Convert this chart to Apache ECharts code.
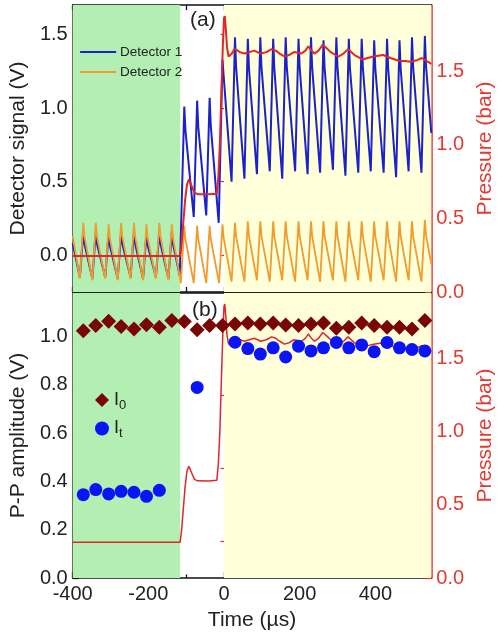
<!DOCTYPE html>
<html><head><meta charset="utf-8">
<script src="https://cdn.jsdelivr.net/npm/echarts@6/dist/echarts.min.js"></script>
<style>html,body{margin:0;padding:0;background:#fff}#c{width:504px;height:639px}</style>
</head><body><div id="c"></div>
<script>
// ---------- DATA ----------
// Top panel: detector waveforms [time (µs), signal (V)]
const detector1 = [
[-400,0.08],
[-381,-0.15],[-372,0.16],[-369,0.08],
[-348,-0.16],[-339,0.16],[-336,0.08],
[-314,-0.15],[-305,0.15],[-302,0.07],
[-281,-0.16],[-272,0.16],[-269,0.08],
[-247,-0.15],[-238,0.16],[-235,0.08],
[-214,-0.16],[-205,0.15],[-202,0.07],
[-180,-0.15],[-171,0.16],[-168,0.08],
[-147,-0.16],[-138,0.16],[-135,0.08],
[-117,-0.14],[-105,1.01],[-102,0.85],
[-80,0.26],[-71,1.05],[-68,0.87],
[-47,0.27],[-38,1.07],[-35,0.88],
[-14,0.22],[-4,1.33],[-1,1.22],
[20,0.50],[29,1.48],[32,1.28],
[54,0.52],[63,1.47],[66,1.27],
[87,0.55],[96,1.48],[99,1.28],
[121,0.57],[130,1.47],[133,1.27],
[154,0.52],[163,1.48],[166,1.28],
[188,0.57],[197,1.47],[200,1.28],
[221,0.55],[230,1.48],[233,1.28],
[254,0.56],[263,1.46],[266,1.27],
[288,0.58],[297,1.48],[300,1.28],
[321,0.54],[330,1.47],[333,1.27],
[355,0.56],[364,1.47],[367,1.28],
[388,0.57],[397,1.46],[400,1.27],
[422,0.56],[431,1.47],[434,1.27],
[455,0.53],[464,1.46],[467,1.27],
[488,0.57],[497,1.48],[500,1.28],
[522,0.56],[531,1.49],[534,1.29],
[548,0.83]
];
const detector2 = [
[-400,0.13],
[-381,-0.16],[-372,0.22],[-369,0.13],
[-348,-0.17],[-339,0.22],[-336,0.13],
[-314,-0.16],[-305,0.21],[-302,0.12],
[-281,-0.17],[-272,0.22],[-269,0.13],
[-247,-0.16],[-238,0.22],[-235,0.13],
[-214,-0.17],[-205,0.21],[-202,0.12],
[-180,-0.16],[-171,0.22],[-168,0.13],
[-147,-0.17],[-138,0.21],[-135,0.12],
[-114,-0.19],[-105,0.20],[-102,0.11],
[-80,-0.19],[-71,0.20],[-68,0.11],
[-47,-0.19],[-38,0.20],[-35,0.11],
[-13,-0.19],[-4,0.21],[-1,0.12],
[20,-0.18],[29,0.22],[32,0.13],
[54,-0.18],[63,0.23],[66,0.13],
[87,-0.17],[96,0.23],[99,0.13],
[121,-0.18],[130,0.23],[133,0.13],
[154,-0.17],[163,0.23],[166,0.13],
[188,-0.18],[197,0.23],[200,0.13],
[221,-0.17],[230,0.23],[233,0.13],
[254,-0.18],[263,0.23],[266,0.13],
[288,-0.17],[297,0.23],[300,0.13],
[321,-0.18],[330,0.23],[333,0.13],
[355,-0.17],[364,0.23],[367,0.13],
[388,-0.18],[397,0.23],[400,0.13],
[422,-0.17],[431,0.23],[434,0.13],
[455,-0.18],[464,0.23],[467,0.13],
[488,-0.17],[497,0.23],[500,0.13],
[522,-0.18],[531,0.24],[534,0.14],
[548,-0.06]
];
// Pressure trace [time (µs), pressure (bar)] (both panels)
const pressure = [
[-400,0.245],[-116,0.245],[-112,0.33],[-108,0.46],[-103,0.62],[-98,0.73],[-93,0.765],[-89,0.755],
[-84,0.71],[-78,0.675],[-70,0.665],[-40,0.664],[-19,0.668],[-15,0.78],[-11,1.0],[-7,1.35],[-3,1.68],
[0,1.86],[2,1.875],[5,1.78],[8,1.66],[12,1.6],[16,1.59],[21,1.62],[27,1.65],[33,1.645],[42,1.63],
[54,1.62],[67,1.63],[80,1.64],[97,1.62],[112,1.63],[126,1.65],[137,1.64],[147,1.62],[160,1.60],
[172,1.61],[185,1.63],[205,1.62],[215,1.64],[223,1.67],[231,1.64],[239,1.62],[250,1.64],[261,1.68],
[270,1.66],[282,1.63],[303,1.60],[316,1.62],[328,1.65],[345,1.61],[366,1.58],[380,1.59],[395,1.60],
[421,1.61],[440,1.59],[464,1.57],[480,1.57],[493,1.565],[510,1.575],[523,1.59],[535,1.57],[548,1.55]
];
// Bottom panel: P-P amplitudes
const i0Times = [-372,-339,-305,-272,-238,-205,-171,-138,-105,-71,-38,-4,29,63,96,130,163,197,230,263,297,330,364,397,431,464,497,531];
const i0Values = [1.024,1.045,1.063,1.041,1.031,1.049,1.038,1.066,1.062,1.028,1.045,1.045,1.052,1.056,1.052,1.056,1.048,1.045,1.052,1.056,1.034,1.038,1.056,1.045,1.038,1.038,1.031,1.066];
const itTimes = [-372,-339,-305,-272,-238,-205,-171,-71,29,63,96,130,163,197,230,263,297,330,364,397,431,464,497,531];
const itValues = [0.345,0.366,0.348,0.359,0.355,0.338,0.363,0.789,0.976,0.950,0.927,0.953,0.915,0.960,0.940,0.953,0.975,0.953,0.965,0.937,0.975,0.953,0.946,0.940];
// Axis ticks
const xMajorTop = [-400,-300,-200,-100,0,100,200,300,400,500];
const xLabels = [-400,-200,0,200,400];
const xMinor = [-300,-100,100,300,500];
const ySigMajor = [0,0.5,1.0,1.5];
const ySigMinor = [-0.25,0.25,0.75,1.25];
const yPresMajor = [0,0.5,1.0,1.5];
const yPresMinor = [0.25,0.75,1.25,1.75];
const yAmpMajor = [0,0.2,0.4,0.6,0.8,1.0];
const yAmpMinor = [0.1,0.3,0.5,0.7,0.9,1.1];
const shadeGreen = [-400,-116];
const shadeYellow = [0,548];

// ---------- CHART ----------
const FONT = 'Liberation Sans, Arial, sans-serif';
const RED = '#e23a32';
const XMIN = -400, XMAX = 548;
const chart = echarts.init(document.getElementById('c'), null, {renderer:'canvas'});

function xAx(grid, pos, opts) {
  return Object.assign({
    type:'value', gridIndex:grid, position:pos, min:XMIN, max:XMAX,
    axisLine:{show:true, onZero:false, lineStyle:{color:'#111', width:1.6}},
    axisTick:{show:true, inside:true, length:5, customValues:xMajorTop, lineStyle:{color:'#111', width:1.3}},
    axisLabel:{show:false},
    splitLine:{show:false}
  }, opts||{});
}
function yAx(grid, pos, min, max, major, color, opts) {
  return Object.assign({
    type:'value', gridIndex:grid, position:pos, min:min, max:max,
    axisLine:{show:true, onZero:false, lineStyle:{color:color, width:1.6}},
    axisTick:{show:true, inside:true, length:6, customValues:major, lineStyle:{color:color, width:1.3}},
    axisLabel:{show:true, customValues:major, margin:5, color:color, fontSize:20, fontFamily:FONT,
      formatter:v=>v.toFixed(1)},
    splitLine:{show:false}
  }, opts||{});
}
function yMinor(grid, pos, min, max, minor, color) {
  return {
    type:'value', gridIndex:grid, position:pos, min:min, max:max,
    axisLine:{show:false},
    axisTick:{show:true, inside:true, length:3.5, customValues:minor, lineStyle:{color:color, width:1.3}},
    axisLabel:{show:false, customValues:minor},
    splitLine:{show:false}
  };
}
const nameStyle = (c)=>({color:c, fontSize:21, fontFamily:FONT});

const option = {
  animation:false,
  backgroundColor:'#fff',
  grid:[
    {left:70, right:59, top:5, height:287},
    {left:70, right:59, top:293, height:285}
  ],
  xAxis:[
    xAx(0,'bottom'),
    xAx(0,'top'),
    xAx(1,'bottom',{
      axisTick:{show:true, inside:true, length:6, customValues:xLabels, lineStyle:{color:'#111', width:1.3}},
      axisLabel:{show:true, customValues:xLabels, margin:6, color:'#222', fontSize:20, fontFamily:FONT},
      name:'Time (µs)', nameLocation:'middle', nameGap:32, nameTextStyle:nameStyle('#222')
    }),
    xAx(1,'bottom',{axisLine:{show:false},
      axisTick:{show:true, inside:true, length:3.5, customValues:xMinor, lineStyle:{color:'#111', width:1.3}}}),
    xAx(1,'top',{axisTick:{show:false}})
  ],
  yAxis:[
    yAx(0,'left',-0.25,1.7,ySigMajor,'#222',{axisLine:{show:true,onZero:false,lineStyle:{color:'#111',width:1.6}},
      axisTick:{show:true,inside:true,length:6,customValues:ySigMajor,lineStyle:{color:'#111',width:1.3}},
      name:'Detector signal (V)', nameLocation:'middle', nameGap:38, nameRotate:90, nameTextStyle:nameStyle('#222')}),
    yMinor(0,'left',-0.25,1.7,ySigMinor,'#111'),
    yAx(0,'right',0,1.95,yPresMajor,RED,{name:'Pressure (bar)', nameLocation:'middle', nameGap:40, nameRotate:90, nameTextStyle:nameStyle(RED)}),
    yMinor(0,'right',0,1.95,yPresMinor,RED),
    yAx(1,'left',0,1.18,yAmpMajor,'#222',{axisLine:{show:true,onZero:false,lineStyle:{color:'#111',width:1.6}},
      axisTick:{show:true,inside:true,length:6,customValues:yAmpMajor,lineStyle:{color:'#111',width:1.3}},
      name:'P-P amplitude (V)', nameLocation:'middle', nameGap:38, nameRotate:90, nameTextStyle:nameStyle('#222')}),
    yMinor(1,'left',0,1.18,yAmpMinor,'#111'),
    yAx(1,'right',0,1.95,yPresMajor,RED,{name:'Pressure (bar)', nameLocation:'middle', nameGap:40, nameRotate:90, nameTextStyle:nameStyle(RED)}),
    yMinor(1,'right',0,1.95,yPresMinor,RED)
  ],
  legend:[
    {data:['Detector 1','Detector 2'], orient:'vertical', left:74, top:40, itemWidth:36, itemHeight:14, itemGap:6,
     itemStyle:{opacity:0}, lineStyle:{width:2.2},
     textStyle:{fontSize:13.5, color:'#222', fontFamily:FONT, padding:[0,0,0,-1]}, inactiveColor:'#ccc'},
    {data:['I0','It'], orient:'vertical', left:90, top:386, itemWidth:14, itemHeight:14, itemGap:8,
     formatter:n=> n==='I0' ? '{m|I}{s|0}' : '{m|I}{s|t}',
     textStyle:{fontFamily:FONT, color:'#222', rich:{
       m:{fontSize:18, fontFamily:FONT, color:'#222'},
       s:{fontSize:13, fontFamily:FONT, color:'#222', verticalAlign:'bottom', padding:[10,0,0,0]}}}}
  ],
  graphic:[
    {type:'text', left:190, top:10, style:{text:'(a)', font:'21px '+FONT, fill:'#222'}, z:100},
    {type:'text', left:192, top:300, style:{text:'(b)', font:'21px '+FONT, fill:'#222'}, z:100}
  ],
  series:[
    {type:'line', xAxisIndex:0, yAxisIndex:0, data:[], silent:true, z:0,
     markArea:{silent:true, data:[
       [{xAxis:shadeGreen[0], itemStyle:{color:'#b3efb3'}},{xAxis:shadeGreen[1]}],
       [{xAxis:shadeYellow[0], itemStyle:{color:'#ffffd9'}},{xAxis:shadeYellow[1]}]]}},
    {type:'line', xAxisIndex:2, yAxisIndex:4, data:[], silent:true, z:0,
     markArea:{silent:true, data:[
       [{xAxis:shadeGreen[0], itemStyle:{color:'#b3efb3'}},{xAxis:shadeGreen[1]}],
       [{xAxis:shadeYellow[0], itemStyle:{color:'#ffffd9'}},{xAxis:shadeYellow[1]}]]}},
    {name:'Detector 1', type:'line', xAxisIndex:0, yAxisIndex:0, data:detector1, symbol:'none', z:2,
     lineStyle:{color:'#1c22c8', width:2}, itemStyle:{color:'#1c22c8'}},
    {name:'Detector 2', type:'line', xAxisIndex:0, yAxisIndex:0, data:detector2, symbol:'none', z:3,
     lineStyle:{color:'#f29c2c', width:1.8}, itemStyle:{color:'#f29c2c'}},
    {name:'Pressure', type:'line', xAxisIndex:0, yAxisIndex:2, data:pressure, symbol:'none', z:4,
     lineStyle:{color:'#e0262a', width:2}},
    {name:'Pressure b', type:'line', xAxisIndex:2, yAxisIndex:6, data:pressure, symbol:'none', z:2,
     lineStyle:{color:'#e0262a', width:1.5}},
    {name:'I0', type:'scatter', xAxisIndex:2, yAxisIndex:4, symbol:'diamond', symbolSize:15, z:4,
     data:i0Times.map((t,i)=>[t,i0Values[i]]), itemStyle:{color:'#7a0505', opacity:1}},
    {name:'It', type:'scatter', xAxisIndex:2, yAxisIndex:4, symbol:'circle', symbolSize:13, z:3,
     data:itTimes.map((t,i)=>[t,itValues[i]]), itemStyle:{color:'#0a14f5', opacity:1}}
  ]
};
chart.setOption(option);
</script></body></html>
